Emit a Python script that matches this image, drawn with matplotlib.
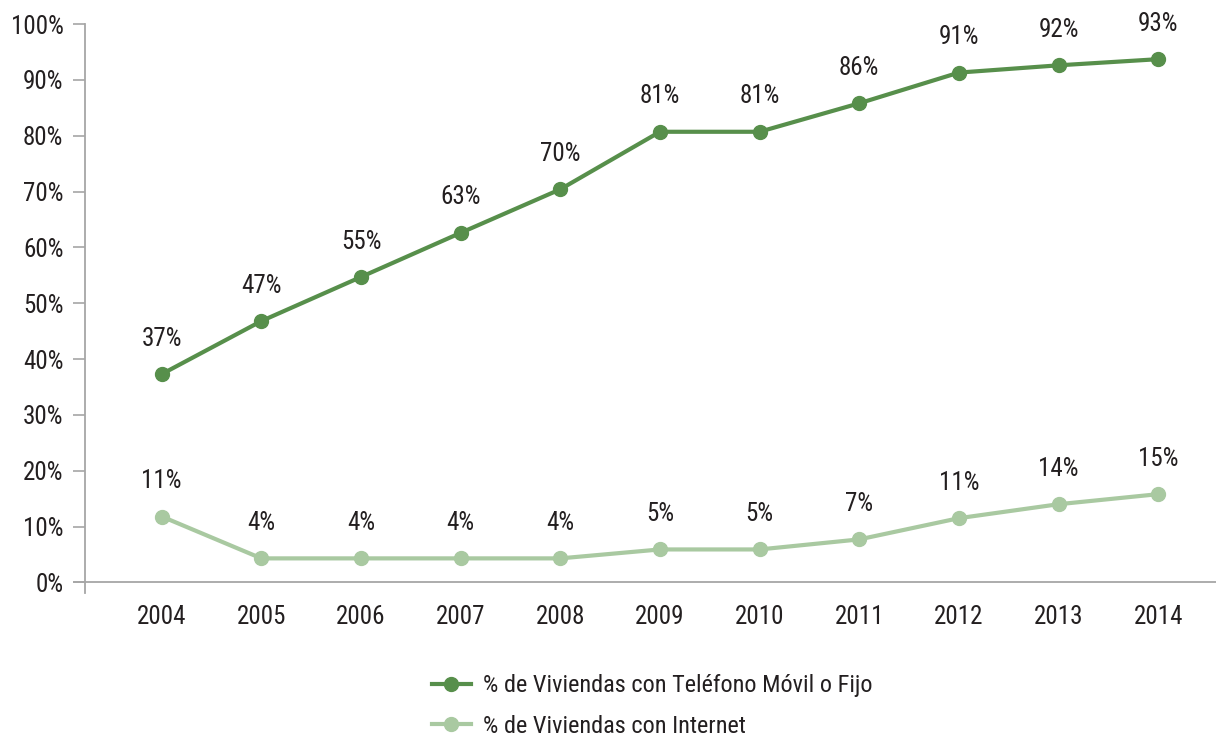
import matplotlib
matplotlib.use("Agg")
import matplotlib.pyplot as plt
from matplotlib import font_manager

years = ["2004", "2005", "2006", "2007", "2008", "2009", "2010", "2011", "2012", "2013", "2014"]
telefono = [37.3, 46.8, 54.7, 62.6, 70.4, 80.7, 80.7, 85.8, 91.3, 92.6, 93.7]
telefono_labels = ["37%", "47%", "55%", "63%", "70%", "81%", "81%", "86%", "91%", "92%", "93%"]
internet = [11.8, 4.3, 4.3, 4.3, 4.3, 5.9, 5.9, 7.7, 11.5, 14.0, 15.8]
internet_labels = ["11%", "4%", "4%", "4%", "4%", "5%", "5%", "7%", "11%", "14%", "15%"]
series_names = ["% de Viviendas con Teléfono Móvil o Fijo", "% de Viviendas con Internet"]
yticks = [0, 10, 20, 30, 40, 50, 60, 70, 80, 90, 100]

available = {f.name for f in font_manager.fontManager.ttflist}
candidates = ["Roboto Condensed", "Archivo Narrow", "PT Sans Narrow", "Liberation Sans Narrow",
              "Fira Sans Condensed", "IBM Plex Sans Condensed", "Open Sans Condensed",
              "Encode Sans Condensed", "Asap Condensed", "Barlow Semi Condensed"]
fam = next((c for c in candidates if c in available), None)
if fam:
    plt.rcParams["font.family"] = [fam, "DejaVu Sans"]
    fs = 18
else:
    plt.rcParams["font.family"] = ["DejaVu Sans"]
    plt.rcParams["font.stretch"] = "condensed"
    fs = 17.5

dark = "#578f4b"
light = "#a9c9a1"
txt = "#231f20"
grey = "#a6a6a6"

fig = plt.figure(figsize=(12.16, 7.36), dpi=100)
ax = fig.add_axes([85 / 1216, (736 - 593) / 736, 1 - 85 / 1216, (593 - 24) / 736])

x = list(range(len(years)))
ax.plot(x, telefono, color=dark, lw=3, marker="o", ms=10, label=series_names[0], zorder=3, clip_on=False)
ax.plot(x, internet, color=light, lw=3, marker="o", ms=10, label=series_names[1], zorder=3, clip_on=False)

for xi, v, l in zip(x, telefono, telefono_labels):
    ax.annotate(l, (xi, v), xytext=(0, 25.5), textcoords="offset points", ha="center", va="center",
                fontsize=fs, color=txt)
for xi, v, l in zip(x, internet, internet_labels):
    ax.annotate(l, (xi, v), xytext=(0, 25.5), textcoords="offset points", ha="center", va="center",
                fontsize=fs, color=txt)

ax.set_xlim(-0.77, 10.58)
ax.set_ylim(-1.9, 100)
ax.set_yticks(yticks)
ax.set_yticklabels([f"{t}%" for t in yticks], fontsize=fs, color=txt)
ax.set_xticks(x)
ax.set_xticklabels(years, fontsize=fs, color=txt)
ax.tick_params(axis="x", length=0, pad=8.5)
ax.tick_params(axis="y", length=9, width=1.2, color=grey, pad=6.5)
ax.axhline(0, color=grey, lw=1.3, zorder=1, xmin=-0.01, clip_on=False)

for s in ["top", "right", "bottom"]:
    ax.spines[s].set_visible(False)
ax.spines["left"].set_color(grey)
ax.spines["left"].set_linewidth(1.3)

fig.legend(loc="center left", bbox_to_anchor=(432 / 1216, 1 - 706 / 736), frameon=False,
           fontsize=fs - 0.5, handlelength=1.6, handletextpad=0.5, labelspacing=0.72,
           labelcolor=txt, borderaxespad=0, borderpad=0)

fig.savefig("out.png", dpi=100)
